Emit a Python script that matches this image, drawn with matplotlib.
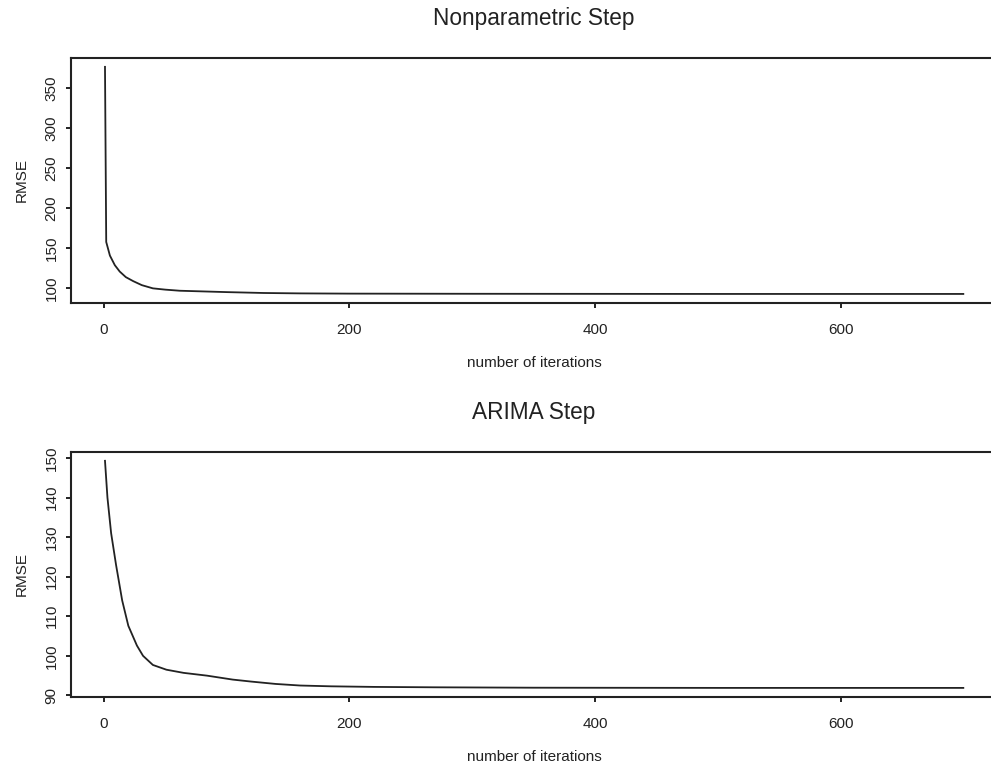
import numpy as np
import matplotlib.pyplot as plt

np_iter = [1, 2, 5, 9, 13, 18, 24, 31, 40, 50, 62, 80, 100, 130, 160, 200, 300, 400, 500, 600, 700]
np_rmse = [377, 158, 141, 129, 121, 114, 109, 104, 100, 98.4, 97.0, 96.2, 95.3, 94.2, 93.7,
           93.4, 93.2, 93.1, 93.0, 93.0, 93.0]

ar_iter = [1, 3, 6, 10, 15, 20, 27, 32, 40, 51, 65, 84, 105, 120, 140, 160, 185, 220, 270, 350, 500, 700]
ar_rmse = [149.3, 140, 131, 123, 114, 107.6, 102.6, 100, 97.7, 96.5, 95.7, 95.0, 94.0, 93.5,
           92.9, 92.5, 92.3, 92.15, 92.05, 91.95, 91.9, 91.9]

x_ticks = [0, 200, 400, 600]
np_yticks = [100, 150, 200, 250, 300, 350]
ar_yticks = [90, 100, 110, 120, 130, 140, 150]

plt.rcParams['font.family'] = ['Liberation Sans', 'DejaVu Sans']
ink = '#222222'


def r_range(v):
    # R style 4% padding on each side
    lo, hi = min(v), max(v)
    d = (hi - lo) * 0.04
    return lo - d, hi + d


def panel(ax, xs, ys, yticks, title):
    ax.plot(xs, ys, color=ink, lw=1.3)
    ax.set_xlim(r_range(xs))
    ax.set_ylim(r_range(ys))
    ax.set_xticks(x_ticks)
    ax.set_yticks(yticks)
    for s in ax.spines.values():
        s.set_linewidth(1.5)
        s.set_color(ink)
    ax.tick_params(axis='both', length=3.6, width=1.4, color=ink, labelsize=11, labelcolor=ink)
    ax.tick_params(axis='x', pad=10.5)
    ax.tick_params(axis='y', pad=5.2)
    for lab in ax.get_yticklabels():
        lab.set_rotation(90)
        lab.set_va('center')
    ax.set_xlabel('number of iterations', fontsize=11, color=ink)
    ax.xaxis.set_label_coords(0.5, -0.245)
    ax.xaxis.label.set_va('center')
    ax.set_ylabel('RMSE', fontsize=11, color=ink)
    ax.yaxis.set_label_coords(-0.0529, 0.5)
    ax.yaxis.label.set_va('center')
    ax.set_title(title, fontsize=16.3, color=ink, y=1.16, va='center', pad=0)


fig = plt.figure(figsize=(9.91, 7.66), dpi=100)
ax1 = fig.add_axes([0.0713, 0.6044, 0.9354, 0.3202])
ax2 = fig.add_axes([0.0713, 0.0901, 0.9354, 0.3202])

panel(ax1, np_iter, np_rmse, np_yticks, 'Nonparametric Step')
panel(ax2, ar_iter, ar_rmse, ar_yticks, 'ARIMA Step')

fig.savefig('out.png', dpi=100)
